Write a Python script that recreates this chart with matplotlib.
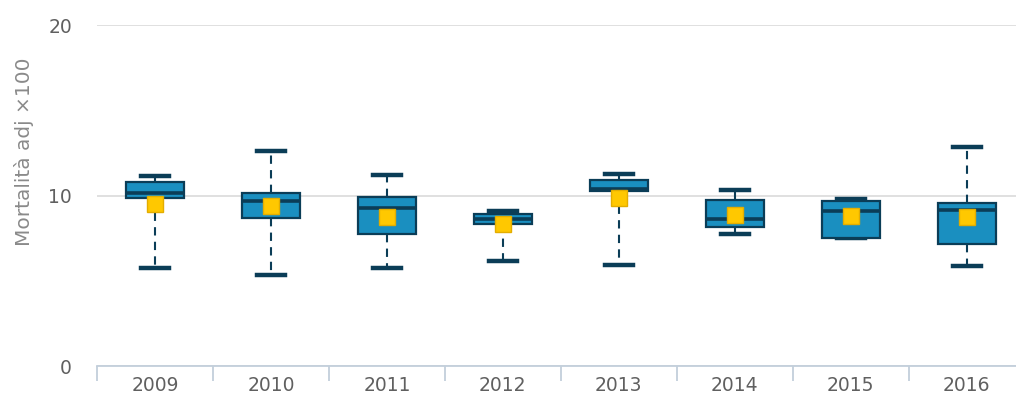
import matplotlib
matplotlib.use("Agg")
import matplotlib.pyplot as plt

years = ["2009", "2010", "2011", "2012", "2013", "2014", "2015", "2016"]
whisk_lo = [5.75, 5.32, 5.75, 6.14, 5.94, 7.72, 7.53, 5.85]
q1 = [9.84, 8.68, 7.74, 8.33, 10.25, 8.17, 7.53, 7.14]
medians = [10.16, 9.68, 9.29, 8.64, 10.40, 8.64, 9.09, 9.13]
q3 = [10.79, 10.16, 9.93, 8.91, 10.89, 9.74, 9.66, 9.54]
whisk_hi = [11.16, 12.61, 11.18, 9.11, 11.28, 10.32, 9.81, 12.86]
means = [9.48, 9.38, 8.72, 8.31, 9.84, 8.86, 8.82, 8.76]

box_fill = "#1a8fc0"
dark = "#0b3d57"
grey_txt = "#606060"
axis_col = "#c3cfdb"

stats = []
for i in range(len(years)):
    stats.append({"label": years[i], "whislo": whisk_lo[i], "q1": q1[i], "med": medians[i],
                  "q3": q3[i], "whishi": whisk_hi[i], "mean": means[i], "fliers": []})

fig = plt.figure(figsize=(10.16, 3.99), dpi=100)
ax = fig.add_axes([0.0955, 0.0827, 0.913, 0.8546])

ax.bxp(stats, positions=range(len(years)), widths=0.5, patch_artist=True, showmeans=True,
       showfliers=False,
       boxprops=dict(facecolor=box_fill, edgecolor=dark, linewidth=1.6, zorder=4),
       medianprops=dict(color=dark, linewidth=2.6, zorder=5),
       whiskerprops=dict(color=dark, linewidth=1.5, linestyle=(0, (4, 3)), zorder=3),
       capprops=dict(color=dark, linewidth=3.2, zorder=3),
       capwidths=0.24,
       meanprops=dict(marker="s", markersize=12, markerfacecolor="#ffc800",
                      markeredgecolor="#e3ad00", markeredgewidth=1.0, zorder=6))

ax.set_xlim(-0.5, len(years) - 0.5)
ax.set_ylim(0, 20)
ax.set_yticks([0, 10, 20])
ax.yaxis.grid(True, color="#dadada", linewidth=1.2, zorder=0)
ax.set_axisbelow(True)

for s in ["top", "right", "left"]:
    ax.spines[s].set_visible(False)
ax.spines["bottom"].set_color(axis_col)
ax.spines["bottom"].set_linewidth(1.3)

ax.set_xticks(range(len(years)))
ax.set_xticklabels(years)
ax.set_xticks([i - 0.5 for i in range(len(years) + 1)], minor=True)
ax.tick_params(axis="x", which="major", length=0, pad=7, labelsize=13.5, labelcolor=grey_txt)
ax.tick_params(axis="x", which="minor", length=11, width=1.3, color=axis_col)
ax.tick_params(axis="y", length=0, pad=18, labelsize=13.5, labelcolor=grey_txt)

ax.set_ylabel("Mortalità adj ×100", fontsize=14.5, color="#8a8a8a")
ax.yaxis.set_label_coords(-0.068, 0.628)

fig.savefig("out.png", dpi=100)
